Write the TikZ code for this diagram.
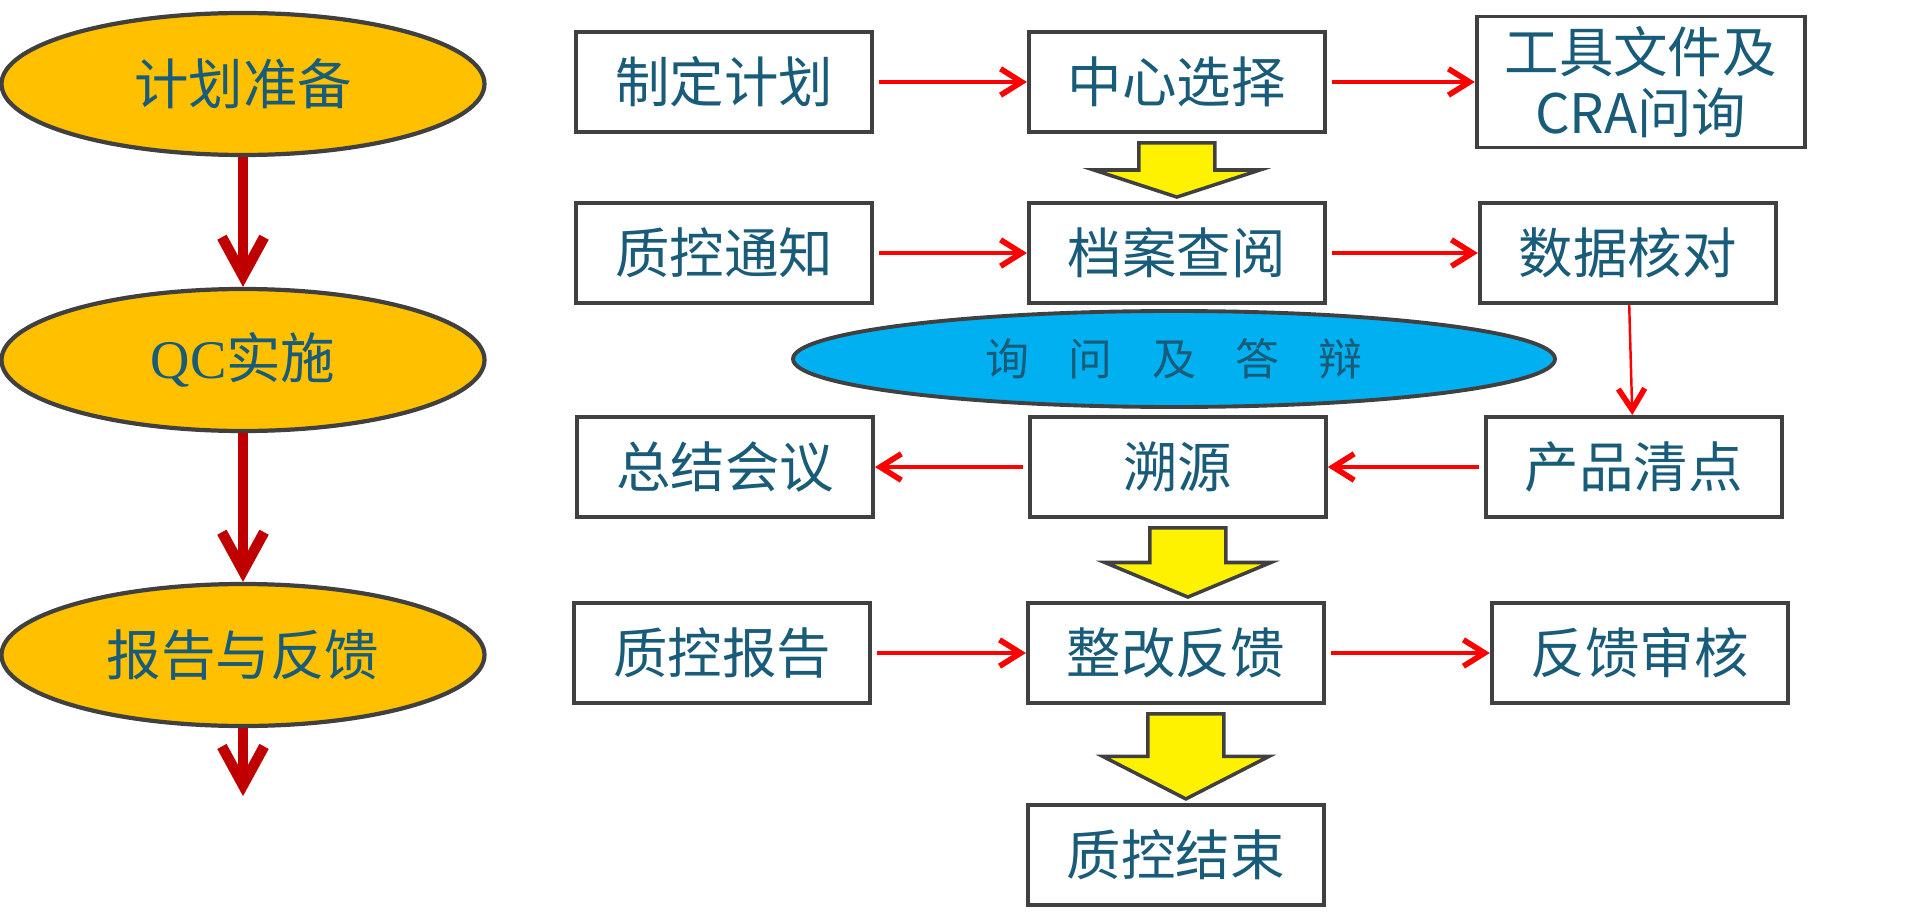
\documentclass[tikz,border=0pt]{standalone}
\usepackage{fontspec}
\setmainfont{Noto Sans CJK SC}
\newfontfamily\qcserif{Liberation Serif}
\usepackage{tikz}
\usetikzlibrary{arrows.meta}
\usetikzlibrary{shapes.geometric,positioning,calc}

\definecolor{qctext}{RGB}{24,92,122}
\definecolor{qcorange}{RGB}{255,192,0}
\definecolor{qcblue}{RGB}{0,176,240}
\definecolor{qcdarkred}{RGB}{192,0,0}
\definecolor{qcedge}{RGB}{64,64,64}

\newcommand{\blockarrow}[3]{%
  \path[yellow block] let \p1=($(#1.south)+(#3,-0.09)$), \p2=($(#2.north)+(#3,0.04)$),
      \p3=($(\p1)!0.5!(\p2)$) in
    (\x1-0.38cm,\y1) -- (\x1+0.38cm,\y1) -- (\x1+0.38cm,\y3) -- (\x1+0.83cm,\y3)
    -- (\x1,\y2) -- (\x1-0.83cm,\y3) -- (\x1-0.38cm,\y3) -- cycle;}

\begin{document}
\begin{tikzpicture}[>={Straight Barb[length=6pt,width=7.5pt,line width=1.6pt]},
    phase node/.style={ellipse,draw=qcedge,line width=1.2pt,fill=qcorange,
      minimum width=4.83cm,minimum height=1.42cm,text=qctext,font=\fontsize{15.5}{18}\selectfont},
    box node/.style={rectangle,draw=qcedge,line width=1.1pt,fill=white,inner sep=2pt,
      minimum width=2.96cm,minimum height=1cm,text=qctext,font=\fontsize{15.5}{18}\selectfont},
    talk node/.style={ellipse,draw=qcedge,line width=1.1pt,fill=qcblue,
      minimum width=7.62cm,minimum height=0.96cm,text=qctext,font=\fontsize{12.5}{15}\selectfont},
    phase line/.style={-{Straight Barb[length=11pt,width=12pt,line width=3pt]},qcdarkred,line width=2.9pt},
    red line/.style={->,red,line width=1.25pt,shorten <=1.5pt},
    thin red line/.style={->,red,line width=0.7pt},
    yellow block/.style={draw=qcedge,line width=1pt,fill=yellow,line join=miter}]

  \useasboundingbox (0,0) rectangle (19.2,-9.21);

  \node[phase node] (prepare) at (2.43,-0.84) {计划准备};
  \node[phase node] (carry) at (2.43,-3.60) {{\qcserif QC}实施};
  \node[phase node] (feedback) at (2.43,-6.55) {报告与反馈};
  \coordinate[below=0.68cm of feedback] (phase end);

  \node[box node] (plan) at (7.24,-0.82) {制定计划};
  \node[box node] (center) [right=1.53cm of plan] {中心选择};
  \node[box node,minimum width=3.28cm,minimum height=1.31cm,align=center,
    font=\fontsize{15.5}{17.4}\selectfont] (tools) [right=1.48cm of center] {工具文件及\\CRA问询};

  \node[box node] (notice) at (7.24,-2.53) {质控通知};
  \node[box node] (archive) [right=1.53cm of notice] {档案查阅};
  \node[box node] (check) [right=1.51cm of archive] {数据核对};

  \node[talk node] (debate) at (11.74,-3.59) {\spaceskip=0.9em\relax 询 问 及 答 辩};

  \node[box node] (summary) at (7.25,-4.67) {总结会议};
  \node[box node] (trace) [right=1.53cm of summary] {溯源};
  \node[box node] (count) [right=1.56cm of trace] {产品清点};

  \node[box node] (report) at (7.22,-6.53) {质控报告};
  \node[box node] (fix) [right=1.54cm of report] {整改反馈};
  \node[box node] (review) [right=1.64cm of fix] {反馈审核};

  \node[box node] (finish) [below=0.98cm of fix] {质控结束};

  \path[phase line]
    (prepare) edge (carry)
    (carry) edge (feedback)
    (feedback) edge (phase end);

  \path[red line]
    (plan) edge (center)
    (center) edge (tools)
    (notice) edge (archive)
    (archive) edge (check)
    (count) edge (trace)
    (trace) edge (summary)
    (report) edge (fix)
    (fix) edge (review);
  \path[thin red line] (check) edge (count);

  \blockarrow{center}{archive}{0}
  \blockarrow{trace}{fix}{0.1}
  \blockarrow{fix}{finish}{0.1}
\end{tikzpicture}
\end{document}
